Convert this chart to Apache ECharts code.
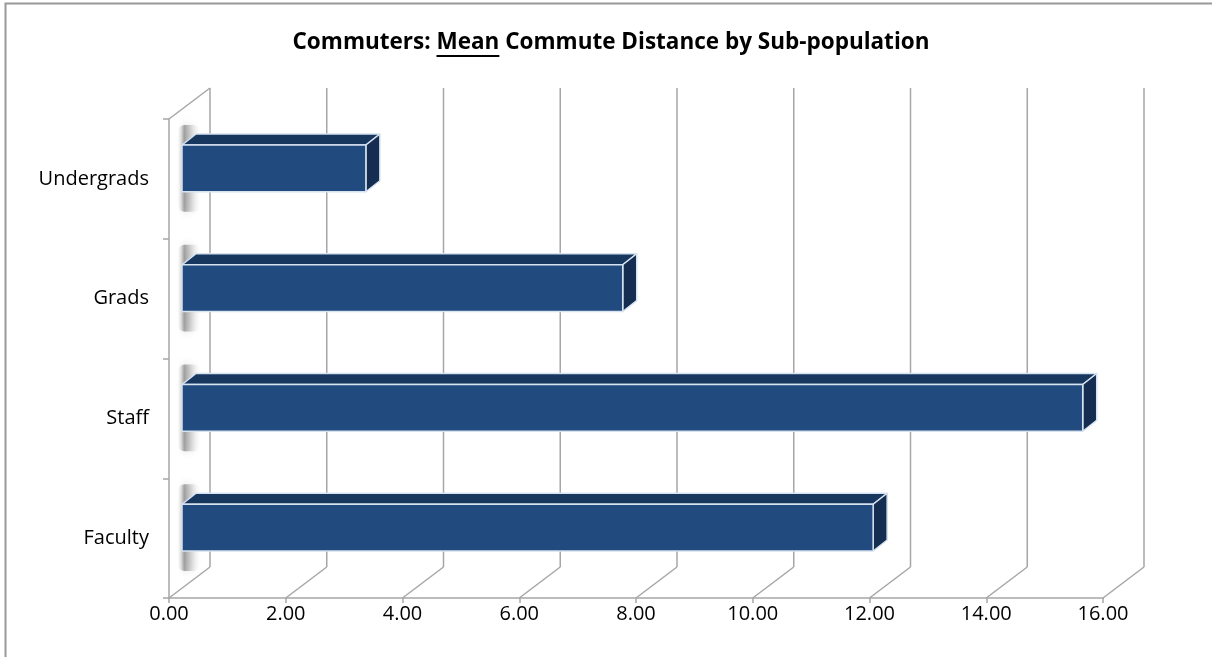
<!DOCTYPE html>
<html>
<head>
<meta charset="utf-8">
<script src="https://cdn.jsdelivr.net/npm/echarts@6/dist/echarts.min.js"></script>
<style>
html,body{margin:0;padding:0;background:#fff;}
#chart{width:1212px;height:657px;}
</style>
</head>
<body>
<div id="chart"></div>
<script>
// ---- data ----
var categories = ['Undergrads', 'Grads', 'Staff', 'Faculty'];
var meanDistance = [3.15, 7.55, 15.43, 11.84];
var xTicks = [0, 2, 4, 6, 8, 10, 12, 14, 16];
var titleParts = ['Commuters: ', 'Mean', ' Commute Distance by Sub-population'];

// ---- style ----
var FONT = '"Open Sans", "Noto Sans", sans-serif';
var GRID_COLOR = '#a6a6a6';
var WALL_DX = 41, WALL_DY = -31;     // depth of the 3D floor / walls
var BAR_OFF_X = 13, BAR_OFF_Y = -10.5; // bar front face offset
var BAR_DX = 14, BAR_DY = -11;        // bar depth
var FRONT = '#214a7e', TOP = '#18375f', SIDE = '#142d50', EDGE = '#d6e2f0';

var chart = echarts.init(document.getElementById('chart'), null, {renderer: 'canvas'});

// measure title to place underline under "Mean"
var titleFont = 'bold 22.5px ' + FONT;
var cv = document.createElement('canvas').getContext('2d');
cv.font = titleFont;
var w0 = cv.measureText(titleParts[0]).width;
var w1 = cv.measureText(titleParts[1]).width;
var wAll = cv.measureText(titleParts.join('')).width;
var titleCx = 611, titleY = 43;
var titleLeft = titleCx - wAll / 2;

function wallsRender(params, api) {
  var cs = params.coordSys;
  var x = api.coord([api.value(0), 0])[0];
  var top = cs.y, bottom = cs.y + cs.height;
  var style = {stroke: GRID_COLOR, lineWidth: 1.5};
  var children = [
    {type: 'line', shape: {x1: x + WALL_DX, y1: top + WALL_DY, x2: x + WALL_DX, y2: bottom + WALL_DY}, style: style},
    {type: 'line', shape: {x1: x, y1: bottom, x2: x + WALL_DX, y2: bottom + WALL_DY}, style: style}
  ];
  if (api.value(0) === 0) {
    children.push({type: 'line', shape: {x1: x, y1: top, x2: x + WALL_DX, y2: top + WALL_DY}, style: style});
  }
  return {type: 'group', children: children};
}

function shadowFill(alpha) {
  return {
    type: 'linear', x: 0, y: 0, x2: 1, y2: 0,
    colorStops: [
      {offset: 0, color: 'rgba(255,255,255,0)'},
      {offset: 0.3, color: 'rgba(110,110,110,' + alpha + ')'},
      {offset: 0.55, color: 'rgba(140,140,140,' + (alpha * 0.6) + ')'},
      {offset: 1, color: 'rgba(255,255,255,0)'}
    ]
  };
}

function barRender(params, api) {
  var idx = api.value(0);
  var val = api.value(1);
  var p0 = api.coord([0, idx]);
  var p1 = api.coord([val, idx]);
  var bandH = api.size([0, 1])[1];
  var h = bandH * 0.39;
  var x0 = p0[0] + BAR_OFF_X, x1 = p1[0] + BAR_OFF_X;
  var yT = p0[1] + BAR_OFF_Y - h / 2, yB = yT + h;
  var edge = {stroke: EDGE, lineWidth: 1.5, lineJoin: 'round'};
  return {
    type: 'group',
    children: [
      // soft shadow on the side wall
      {type: 'rect', shape: {x: x0 - 5, y: yT - 20, width: 24, height: h + 40, r: 8},
        style: {fill: shadowFill(0.6), shadowBlur: 8, shadowColor: 'rgba(120,120,120,0.35)'}, z2: 0},
      // top face
      {type: 'polygon', shape: {points: [[x0, yT], [x1, yT], [x1 + BAR_DX, yT + BAR_DY], [x0 + BAR_DX, yT + BAR_DY]]},
        style: Object.assign({fill: TOP}, edge), z2: 1},
      // right face
      {type: 'polygon', shape: {points: [[x1, yT], [x1 + BAR_DX, yT + BAR_DY], [x1 + BAR_DX, yB + BAR_DY], [x1, yB]]},
        style: Object.assign({fill: SIDE}, edge), z2: 1},
      // front face
      {type: 'rect', shape: {x: x0, y: yT, width: x1 - x0, height: h},
        style: Object.assign({fill: FRONT}, edge), z2: 2}
    ]
  };
}

var option = {
  backgroundColor: '#ffffff',
  animation: false,
  grid: {left: 169, right: 109, top: 119, bottom: 59},
  xAxis: {
    type: 'value', min: 0, max: 16, interval: 2,
    axisLine: {show: true, lineStyle: {color: GRID_COLOR, width: 1.5}},
    axisTick: {show: true, length: 5, lineStyle: {color: GRID_COLOR, width: 1.5}},
    splitLine: {show: false},
    axisLabel: {
      fontFamily: FONT, fontSize: 20, color: '#000', margin: 6,
      formatter: function (v) { return v.toFixed(2); }
    }
  },
  yAxis: {
    type: 'category', data: categories, inverse: true,
    axisLine: {show: true, lineStyle: {color: GRID_COLOR, width: 1.5}},
    axisTick: {show: true, length: 6, lineStyle: {color: GRID_COLOR, width: 1.5}},
    axisLabel: {fontFamily: FONT, fontSize: 20, color: '#000', margin: 20, padding: [6, 0, 0, 0]}
  },
  series: [
    {
      type: 'custom', renderItem: wallsRender, z: 1, silent: true,
      data: xTicks.map(function (t) { return [t]; }),
      encode: {x: 0}
    },
    {
      type: 'custom', renderItem: barRender, z: 3,
      data: meanDistance.map(function (v, i) { return [i, v]; }),
      encode: {y: 0, x: 1}
    }
  ],
  graphic: [
    {type: 'rect', shape: {x: 5.5, y: 3.5, width: 1400, height: 900}, style: {fill: 'none', stroke: '#999999', lineWidth: 2}, silent: true, z: 0},
    {type: 'text', x: titleLeft, y: titleY, style: {text: titleParts.join(''), font: titleFont, fill: '#000', textAlign: 'left', textVerticalAlign: 'middle'}, z: 10},
    {type: 'rect', shape: {x: titleLeft + w0, y: titleY + 12, width: w1, height: 2}, style: {fill: '#000'}, z: 10}
  ]
};
chart.setOption(option);
</script>
</body>
</html>
